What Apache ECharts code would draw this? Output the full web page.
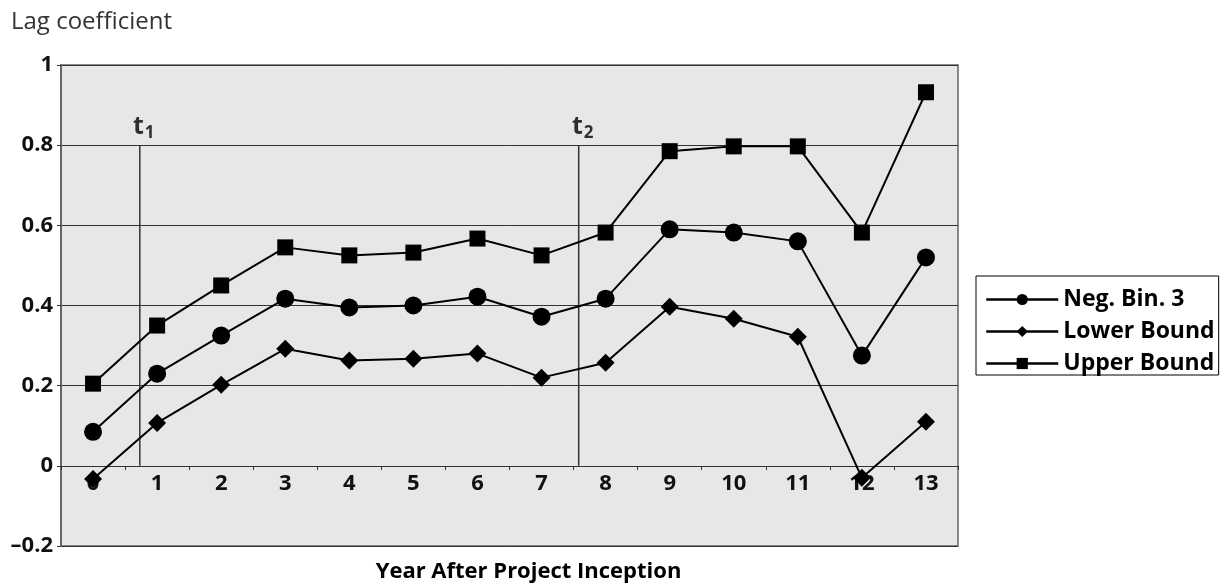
<!DOCTYPE html>
<html>
<head>
<meta charset="utf-8">
<script src="https://cdn.jsdelivr.net/npm/echarts@6/dist/echarts.min.js"></script>
<style>
  html, body { margin: 0; padding: 0; background: #fff; }
  #chart { width: 1225px; height: 588px; }
</style>
</head>
<body>
<div id="chart"></div>
<script>
// Year after project inception
const years = ['0', '1', '2', '3', '4', '5', '6', '7', '8', '9', '10', '11', '12', '13'];

const negBin3 = [0.085, 0.23, 0.325, 0.417, 0.395, 0.4, 0.422, 0.372, 0.417, 0.59, 0.582, 0.56, 0.275, 0.52];
const lowerBound = [-0.033, 0.107, 0.202, 0.292, 0.263, 0.267, 0.28, 0.22, 0.257, 0.397, 0.367, 0.322, -0.03, 0.11];
const upperBound = [0.205, 0.35, 0.45, 0.545, 0.525, 0.532, 0.567, 0.525, 0.582, 0.785, 0.797, 0.797, 0.582, 0.932];

// reference lines t1 / t2 (position in year units, on a hidden value axis)
const tNames = ['1', '2'];
const tPositions = [0.73, 7.58];
const tTop = 0.8;

const FONT = '"Open Sans", "Noto Sans", sans-serif';

const chart = echarts.init(document.getElementById('chart'));

const mainSeries = [
  { name: 'Neg. Bin. 3', data: negBin3, symbol: 'circle', symbolSize: 18 },
  { name: 'Lower Bound', data: lowerBound, symbol: 'diamond', symbolSize: 18 },
  { name: 'Upper Bound', data: upperBound, symbol: 'rect', symbolSize: 16 },
].map(s => ({
  ...s,
  type: 'line',
  xAxisIndex: 0,
  z: 5,
  itemStyle: { color: '#000' },
  lineStyle: { color: '#000', width: 2 },
  emphasis: { disabled: true },
}));

const markerLines = tPositions.map(x => ({
  type: 'line',
  xAxisIndex: 1,
  symbol: 'none',
  z: 3,
  silent: true,
  lineStyle: { color: '#333', width: 1.5 },
  data: [[x, 0], [x, tTop]],
}));

const markerLabels = {
  type: 'scatter',
  xAxisIndex: 1,
  symbolSize: 1,
  silent: true,
  z: 4,
  itemStyle: { color: 'rgba(0,0,0,0)' },
  data: tPositions.map((x, i) => ({ value: [x, tTop], name: tNames[i] })),
  label: {
    show: true,
    position: 'top',
    distance: 3,
    offset: [4, 0],
    formatter: p => '{t|t}{s|' + p.name + '}',
    rich: {
      t: { fontFamily: FONT, fontWeight: 'bold', fontSize: 25, color: '#000' },
      s: { fontFamily: FONT, fontWeight: 'bold', fontSize: 17, color: '#000', padding: [12, 0, 0, 1] },
    },
  },
};

chart.setOption({
  backgroundColor: '#fff',
  animation: false,
  title: {
    text: 'Lag coefficient',
    left: 6,
    top: 5,
    textStyle: { fontFamily: FONT, fontWeight: 'normal', fontSize: 24, color: '#333' },
  },
  legend: {
    data: ['Neg. Bin. 3', 'Lower Bound', 'Upper Bound'],
    orient: 'vertical',
    left: 976,
    top: 276,
    padding: [12, 4, 0, 9],
    itemWidth: 72,
    itemHeight: 14,
    itemGap: 9,
    borderColor: '#000',
    borderWidth: 1,
    selectedMode: false,
    lineStyle: { width: 2.5 },
    textStyle: { fontFamily: FONT, fontWeight: 'bold', fontSize: 23, color: '#000', lineHeight: 20 },
  },
  grid: {
    left: 61,
    right: 267,
    top: 65,
    bottom: 42,
    outerBoundsMode: 'none',
    show: true,
    backgroundColor: '#e6e7e8',
    borderColor: '#666',
    borderWidth: 1.5,
  },
  xAxis: [
    {
      type: 'category',
      data: years,
      offset: -80,
      name: 'Year After Project Inception',
      nameLocation: 'middle',
      nameGap: 95,
      nameTextStyle: { fontFamily: FONT, fontWeight: 'bold', fontSize: 22, color: '#000', padding: [0, 0, 0, 38] },
      axisLine: { onZero: false, lineStyle: { color: '#333', width: 1 } },
      axisTick: { show: true, length: 4, lineStyle: { color: '#333' } },
      axisLabel: { fontFamily: FONT, fontWeight: 'bold', fontSize: 22, color: '#111', margin: 7 },
      splitLine: { show: false },
    },
    {
      type: 'value',
      min: -0.5,
      max: 13.5,
      show: false,
    },
  ],
  yAxis: {
    type: 'value',
    min: -0.2,
    max: 1,
    interval: 0.2,
    axisLine: { show: true, onZero: false, lineStyle: { color: '#666', width: 2 } },
    axisTick: { show: true, length: 4, lineStyle: { color: '#333' } },
    axisLabel: {
      fontFamily: FONT,
      fontWeight: 'bold',
      fontSize: 22,
      color: '#111',
      margin: 8,
      formatter: v => (v < 0 ? '\u2013' + Math.abs(v) : String(v)),
    },
    splitLine: { show: true, lineStyle: { color: '#333', width: 1 } },
  },
  series: [...mainSeries, ...markerLines, markerLabels],
});
</script>
</body>
</html>
